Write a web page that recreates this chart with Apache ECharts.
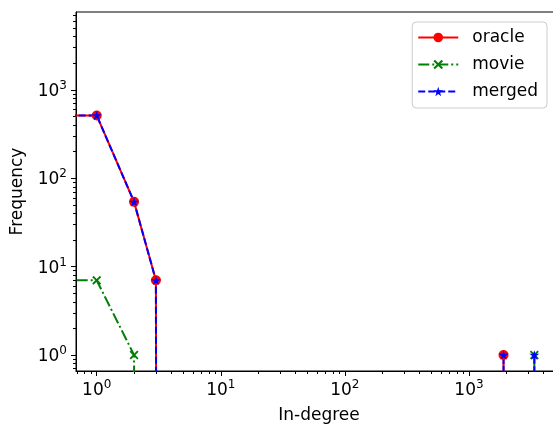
<!DOCTYPE html>
<html><head><meta charset="utf-8">
<script src="https://cdn.jsdelivr.net/npm/echarts@6/dist/echarts.min.js"></script>
<style>html,body{margin:0;padding:0;background:#fff}#c{width:553px;height:426px}</style>
</head><body><div id="c"></div>
<script>
// ---- data (degree -> frequency; zeros are clipped like matplotlib's log scale) ----
const oracleDegree = [0, 1, 2, 3, 4, 1899, 1900, 1901];
const oracleFreq   = [513, 513, 54, 7, 0, 0, 1, 0];
const movieDegree  = [0, 1, 2, 3, 3364, 3365, 3366];
const movieFreq    = [7, 7, 1, 0, 0, 1, 0];
const mergedDegree = [0, 1, 2, 3, 4, 1899, 1900, 1901, 3364, 3365, 3366];
const mergedFreq   = [513, 513, 54, 7, 0, 0, 1, 0, 0, 1, 0];
const majorTicks = [1, 10, 100, 1000];

const X_MIN = 0.681, X_MAX = 5623, Y_MIN = 0.659, Y_MAX = 7590;
const FLOOR = 1e-100;

function minorTicks(lo, hi) {
  const out = [];
  for (let k = -2; k <= 5; k++) for (let m = 2; m <= 9; m++) {
    const v = m * Math.pow(10, k);
    if (v > lo && v < hi) out.push(v);
  }
  return out;
}
function pts(xs, ys) {
  return xs.map((x, i) => {
    const y = ys[i];
    const item = { value: [x > 0 ? x : FLOOR, y > 0 ? y : FLOOR] };
    if (!(x > 0 && y > 0)) item.symbol = 'none';
    return item;
  });
}
function starPath() {
  let d = '';
  for (let i = 0; i < 10; i++) {
    const r = i % 2 ? 0.382 : 1;
    const a = (-90 + i * 36) * Math.PI / 180;
    d += (i ? 'L' : 'M') + (r * Math.cos(a)).toFixed(4) + ',' + (r * Math.sin(a)).toFixed(4);
  }
  return 'path://' + d + 'Z';
}
const X_PATH = 'path://M3,0L10,7L17,0L20,3L13,10L20,17L17,20L10,13L3,20L0,17L7,10L0,3Z';

const FONT = 'DejaVu Sans';
const rich = {
  b: { fontSize: 17, fontFamily: FONT, color: '#000', verticalAlign: 'bottom' },
  s: { fontSize: 12, fontFamily: FONT, color: '#000', verticalAlign: 'bottom', padding: [0, 0, 8, 0] }
};
const fmt = v => '{b|10}{s|' + Math.round(Math.log10(v)) + '}';

const chart = echarts.init(document.getElementById('c'), null, { renderer: 'canvas' });
const axisCommon = { type: 'log', logBase: 10, splitLine: { show: false } };
chart.setOption({
  animation: false,
  backgroundColor: '#fff',
  grid: { left: 76, right: -9, top: 12, bottom: 55, show: true, borderColor: '#000', borderWidth: 1,
          containLabel: false, outerBoundsMode: 'none' },
  legend: {
    orient: 'vertical', right: 6, top: 22,
    itemWidth: 40, itemHeight: 12, itemGap: 10,
    padding: [7, 9, 8, 5],
    backgroundColor: 'rgba(255,255,255,0.8)', borderColor: '#cccccc', borderWidth: 1, borderRadius: 4,
    textStyle: { fontSize: 17, fontFamily: FONT, color: '#000', padding: [0, 0, 0, 9] },
    data: ['oracle', 'movie', 'merged']
  },
  xAxis: [
    Object.assign({}, axisCommon, {
      min: X_MIN, max: X_MAX, name: 'In-degree', nameLocation: 'middle', nameGap: 36,
      nameTextStyle: { fontSize: 17, fontFamily: FONT, color: '#000' },
      axisLine: { show: true, lineStyle: { color: '#000', width: 1 } },
      axisTick: { show: true, length: 5, customValues: majorTicks, lineStyle: { color: '#000', width: 1 } },
      axisLabel: { customValues: majorTicks, formatter: fmt, rich: rich, margin: 8 }
    }),
    Object.assign({}, axisCommon, {
      min: X_MIN, max: X_MAX, position: 'bottom',
      axisLine: { show: false },
      axisTick: { show: true, length: 3, customValues: minorTicks(X_MIN, X_MAX), lineStyle: { color: '#000', width: 1 } },
      axisLabel: { show: false }
    })
  ],
  yAxis: [
    Object.assign({}, axisCommon, {
      min: Y_MIN, max: Y_MAX, name: 'Frequency', nameLocation: 'middle', nameGap: 50,
      nameTextStyle: { fontSize: 17, fontFamily: FONT, color: '#000' },
      axisLine: { show: true, lineStyle: { color: '#000', width: 1 } },
      axisTick: { show: true, length: 5, customValues: majorTicks, lineStyle: { color: '#000', width: 1 } },
      axisLabel: { customValues: majorTicks, formatter: fmt, rich: rich, margin: 9 }
    }),
    Object.assign({}, axisCommon, {
      min: Y_MIN, max: Y_MAX, position: 'left',
      axisLine: { show: false },
      axisTick: { show: true, length: 3, customValues: minorTicks(Y_MIN, Y_MAX), lineStyle: { color: '#000', width: 1 } },
      axisLabel: { show: false }
    })
  ],
  series: [
    {
      name: 'oracle', type: 'line', clip: true, xAxisIndex: 0, yAxisIndex: 0,
      data: pts(oracleDegree, oracleFreq),
      symbol: 'circle', symbolSize: 10,
      lineStyle: { color: '#ff0000', width: 2, type: 'solid' },
      itemStyle: { color: '#ff0000' }
    },
    {
      name: 'movie', type: 'line', clip: true, xAxisIndex: 0, yAxisIndex: 0,
      data: pts(movieDegree, movieFreq),
      symbol: X_PATH, symbolSize: 9,
      lineStyle: { color: '#008000', width: 2, type: [11, 3, 2, 3] },
      itemStyle: { color: '#008000' }
    },
    {
      name: 'merged', type: 'line', clip: true, xAxisIndex: 0, yAxisIndex: 0,
      data: pts(mergedDegree, mergedFreq),
      symbol: starPath(), symbolSize: 10, symbolKeepAspect: true,
      lineStyle: { color: '#0000ff', width: 2, type: [7, 3] },
      itemStyle: { color: '#0000ff' }
    }
  ]
});
</script></body></html>
